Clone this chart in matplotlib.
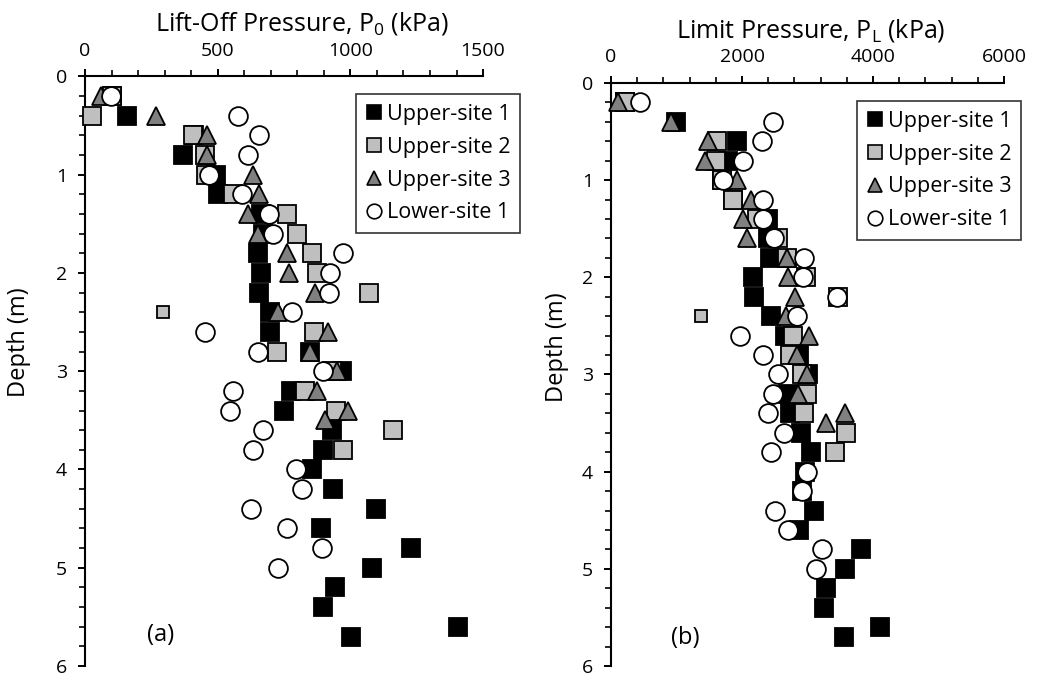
import matplotlib
matplotlib.use("Agg")
import matplotlib.pyplot as plt
from matplotlib.lines import Line2D
from matplotlib.ticker import MultipleLocator

plt.rcParams['font.family'] = ['Open Sans', 'DejaVu Sans']
plt.rcParams['mathtext.default'] = 'regular'

# ---- data: (a) lift-off pressure P0 (kPa) ----
us1_depth_a = [0.2, 0.4, 0.6, 0.8, 1.0, 1.2, 1.4, 1.6, 1.8, 2.0, 2.2, 2.4, 2.6, 2.8, 3.0,
               3.2, 3.4, 3.6, 3.8, 4.0, 4.2, 4.4, 4.6, 4.8, 5.0, 5.2, 5.4, 5.6, 5.7]
us1_p0 = [100, 159, 410, 368, 495, 500, 665, 672, 653, 665, 655, 697, 697, 847, 967,
          778, 751, 929, 898, 856, 935, 1096, 888, 1228, 1082, 942, 898, 1406, 1002]

us2_depth_a = [0.2, 0.4, 0.6, 0.8, 1.0, 1.2, 1.4, 1.6, 1.8, 2.0, 2.2, 2.4, 2.6, 2.8, 3.0,
               3.2, 3.4, 3.6, 3.8]
us2_p0 = [103, 28, 408, 452, 456, 559, 762, 797, 854, 875, 1070, 293, 864, 722, 930,
          829, 945, 1161, 973]

us3_depth_a = [0.2, 0.4, 0.6, 0.8, 1.0, 1.2, 1.4, 1.6, 1.8, 2.0, 2.2, 2.4, 2.6, 2.8, 3.0,
               3.2, 3.4, 3.5]
us3_p0 = [60, 267, 458, 458, 634, 657, 615, 653, 760, 768, 866, 726, 917, 847, 948,
          875, 992, 904]

ls1_depth_a = [0.2, 0.4, 0.6, 0.8, 1.0, 1.2, 1.4, 1.6, 1.8, 2.0, 2.2, 2.4, 2.6, 2.8, 3.0,
               3.2, 3.4, 3.6, 3.8, 4.0, 4.2, 4.4, 4.6, 4.8, 5.0]
ls1_p0 = [97, 577, 655, 615, 468, 593, 694, 709, 973, 923, 920, 781, 452, 650, 895,
          556, 546, 672, 634, 795, 816, 624, 762, 894, 727]

# ---- data: (b) limit pressure PL (kPa) ----
us1_depth_b = us1_depth_a
us1_pl = [214, 992, 1917, 1790, 1690, 1866, 2400, 2400, 2426, 2171, 2181, 2436, 2654, 2873, 3010,
          2705, 2731, 2899, 3046, 2960, 2909, 3097, 2873, 3824, 3570, 3280, 3254, 4104, 3560]

us2_depth_b = [0.2, 0.6, 0.8, 1.0, 1.2, 1.4, 1.6, 1.8, 2.0, 2.2, 2.4, 2.6, 2.8, 3.0,
               3.2, 3.4, 3.6, 3.8]
us2_pl = [214, 1612, 1600, 1689, 1862, 2230, 2543, 2680, 2975, 3468, 1373, 2771, 2731, 2909,
          2985, 2944, 3580, 3427]

us3_depth_b = us3_depth_a
us3_pl = [112, 915, 1485, 1434, 1917, 2130, 2019, 2070, 2680, 2705, 2807, 2670, 3021, 2832, 2995,
          2848, 3570, 3280]

ls1_depth_b = ls1_depth_a
ls1_pl = [442, 2476, 2309, 2019, 1704, 2324, 2324, 2492, 2944, 2934, 3453, 2832, 1968, 2324, 2553,
          2466, 2400, 2644, 2441, 2985, 2909, 2502, 2705, 3214, 3127]

labels = ['Upper-site 1', 'Upper-site 2', 'Upper-site 3', 'Lower-site 1']
small_depth_us2 = 2.4   # this test is drawn with a smaller marker

MS = 13.5
MEW = 1.3
styles = [
    dict(marker='s', mfc='black', mec='black'),
    dict(marker='s', mfc='#bfbfbf', mec='black'),
    dict(marker='^', mfc='#808080', mec='black'),
    dict(marker='o', mfc='white', mec='black'),
]


def draw_panel(ax, series, xmax, xmajor, xminor, xlabel, xlab_x, tag, leg_anchor, ylab_pos):
    for i, (x, d) in enumerate(series):
        st = styles[i]
        if i == 1:
            big = [(xx, dd) for xx, dd in zip(x, d) if dd != small_depth_us2]
            sm = [(xx, dd) for xx, dd in zip(x, d) if dd == small_depth_us2]
            ax.plot([p[0] for p in big], [p[1] for p in big], ls='none', ms=MS, mew=MEW,
                    zorder=3 + i, clip_on=False, **st)
            ax.plot([p[0] for p in sm], [p[1] for p in sm], ls='none', ms=9, mew=MEW,
                    zorder=3 + i, clip_on=False, **st)
        else:
            ax.plot(x, d, ls='none', ms=MS, mew=MEW, zorder=3 + i, clip_on=False, **st)

    ax.set_xlim(0, xmax)
    ax.set_ylim(6, 0)
    ax.xaxis.tick_top()
    ax.xaxis.set_label_position('top')
    ax.xaxis.set_major_locator(MultipleLocator(xmajor))
    ax.xaxis.set_minor_locator(MultipleLocator(xminor))
    ax.yaxis.set_major_locator(MultipleLocator(1))
    ax.yaxis.set_minor_locator(MultipleLocator(0.2))
    ax.tick_params(which='major', direction='out', length=5, width=1.4, labelsize=14)
    ax.tick_params(axis='x', which='major', pad=7)
    ax.tick_params(axis='y', which='major', pad=8)
    ax.tick_params(which='minor', direction='out', length=4, width=1.2)
    for s in ['right', 'bottom']:
        ax.spines[s].set_visible(False)
    for s in ['left', 'top']:
        ax.spines[s].set_linewidth(1.5)
    ax.set_xlabel(xlabel, fontsize=18, labelpad=8)
    ax.xaxis.label.set_x(xlab_x)
    ax.set_ylabel('Depth (m)', fontsize=17)
    ax.yaxis.set_label_coords(*ylab_pos)
    ax.text(tag[1], tag[2], tag[0], transform=ax.transAxes, fontsize=17,
            ha='center', va='center')

    handles = [Line2D([], [], ls='none', ms=10.5, mew=1.2, **st) for st in styles]
    leg = ax.legend(handles, labels, loc='upper left', bbox_to_anchor=leg_anchor,
                    fontsize=15.5, frameon=True, fancybox=False, edgecolor='black',
                    handlelength=0.8, handletextpad=0.2, labelspacing=0.55,
                    borderpad=0.45, borderaxespad=0)
    leg.get_frame().set_linewidth(1.2)
    leg.set_zorder(10)


fig = plt.figure(figsize=(10.37, 6.77), dpi=100)
ax1 = fig.add_axes([0.082, 0.01625, 0.3838, 0.8708])
ax2 = fig.add_axes([0.5892, 0.01625, 0.379, 0.8612])

draw_panel(ax1, [(us1_p0, us1_depth_a), (us2_p0, us2_depth_a), (us3_p0, us3_depth_a),
                 (ls1_p0, ls1_depth_a)],
           1500, 500, 100, 'Lift-Off Pressure, P$_0$ (kPa)', 0.545, ('(a)', 0.19, 0.053),
           (0.68, 0.97), (-0.136, 0.55))
draw_panel(ax2, [(us1_pl, us1_depth_b), (us2_pl, us2_depth_b), (us3_pl, us3_depth_b),
                 (ls1_pl, ls1_depth_b)],
           6000, 2000, 400, 'Limit Pressure, P$_L$ (kPa)', 0.509, ('(b)', 0.19, 0.048),
           (0.625, 0.969), (-0.107, 0.547))

fig.savefig('out.png', dpi=100)
